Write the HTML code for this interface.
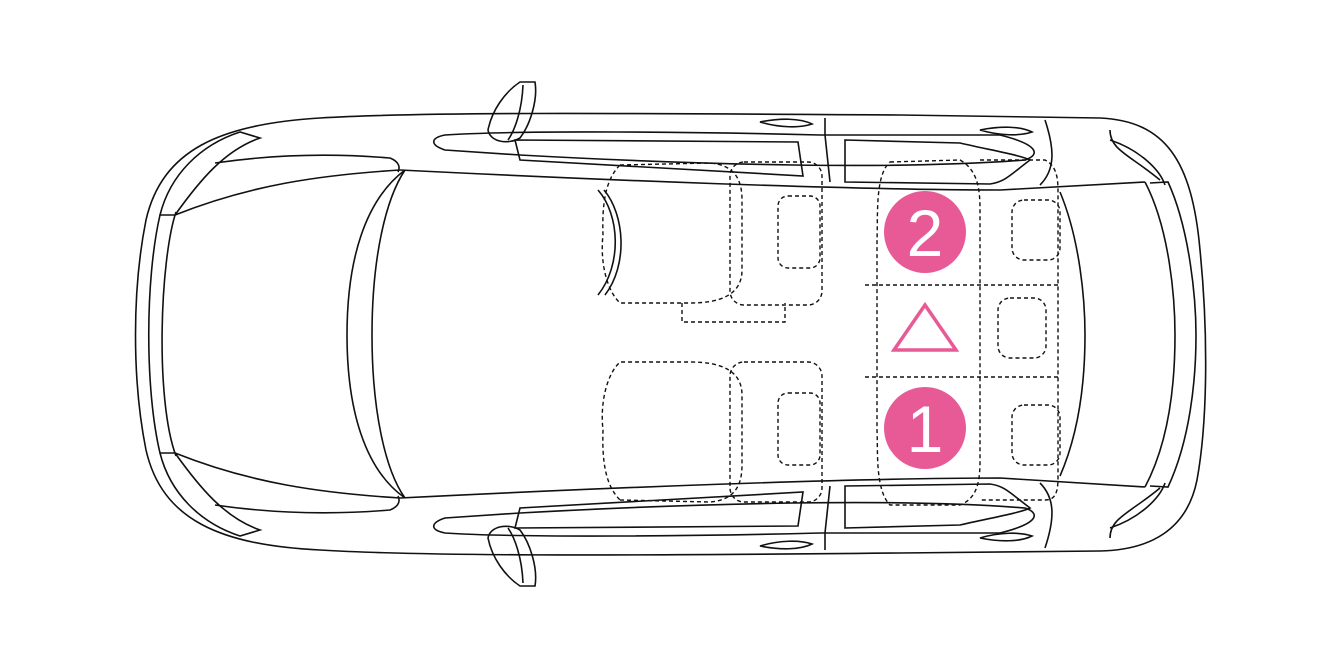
<!DOCTYPE html>
<html><head><meta charset="utf-8"><style>
html,body{margin:0;padding:0;background:#fff;width:1340px;height:672px;overflow:hidden}
svg{display:block}
</style></head><body>
<svg width="1340" height="672" viewBox="0 0 1340 672" xmlns="http://www.w3.org/2000/svg" fill="none" stroke="#111" stroke-width="1.6">
<!-- outer body -->
<path d="M320,118 C420,112 600,113 900,115 L1100,118 C1165,121 1192,160 1200,250 C1208,330 1208,420 1197,480 C1187,530 1150,550 1100,551 L900,553 C600,556 420,556 320,550 C220,545 162,520 146,450 C132,380 132,290 146,220 C162,150 220,124 320,118 Z"/>
<path d="M240,132 C200,145 170,175 160,215 L175,215 C200,180 225,150 260,138 Z"/>
<path d="M240,536 C200,523 170,493 160,453 L175,453 C200,488 225,518 260,530 Z"/>
<path d="M176,212 C160,260 155,400 176,456"/>
<path d="M160,215 C145,280 145,390 160,453"/>
<path d="M175,215 C250,185 320,175 400,170"/>
<path d="M175,453 C250,483 320,493 400,498"/>
<path d="M215,163 C270,155 330,153 390,158 C400,162 400,168 398,172"/>
<path d="M215,505 C270,513 330,515 390,510 C400,506 400,500 398,496"/>
<!-- windshield -->
<path d="M405,170 C365,200 347,260 347,335 C347,410 365,470 405,498"/>
<path d="M405,170 C385,200 372,260 372,335 C372,410 385,470 405,498"/>
<!-- roof lines -->
<path d="M400,170 C600,180 850,190 1000,190 L1145,182"/>
<path d="M400,498 C600,488 850,478 1000,478 L1145,487"/>
<!-- rear window -->
<path d="M1145,182 C1170,230 1175,300 1175,335 C1175,380 1170,440 1145,487"/>
<path d="M1150,183 L1168,182 C1190,230 1196,300 1196,335 C1196,380 1190,440 1168,487 L1150,486"/>
<path d="M1060,192 C1080,240 1085,300 1085,335 C1085,380 1080,430 1060,476"/>
<path d="M1110,140 C1140,150 1160,170 1165,185"/>
<path d="M1110,528 C1140,518 1160,498 1165,483"/>
<path d="M1110,130 C1110,150 1130,155 1160,180 M1110,538 C1110,518 1130,513 1160,488"/>
<!-- door sills top -->
<path d="M445,135 C520,130 700,132 820,135 L1000,135 C1040,145 1040,155 1025,160 C900,170 700,165 520,155 L445,150 C430,145 430,138 445,135 Z"/>
<path d="M445,533 C520,538 700,536 820,533 L1000,533 C1040,523 1040,513 1025,508 C900,498 700,503 520,513 L445,518 C430,523 430,530 445,533 Z"/>
<path d="M515,140 L798,142 L803,176 L520,160 Z"/>
<path d="M515,528 L798,526 L803,492 L520,508 Z"/>
<path d="M845,140 L960,143 C990,150 1020,155 1030,160 C1010,175 1005,182 990,184 L845,182 Z"/>
<path d="M845,528 L960,525 C990,518 1020,513 1030,508 C1010,493 1005,486 990,484 L845,486 Z"/>
<path d="M825,118 L825,135 M825,533 L825,550 M825,135 L830,182 M825,533 L830,486"/>
<path d="M1045,120 C1055,150 1055,170 1040,185 M1045,548 C1055,518 1055,498 1040,483"/>
<path d="M760,122 C780,118 800,118 812,124 C800,128 780,128 760,122 Z M980,130 C1000,126 1020,126 1032,132 C1020,136 1000,136 980,130 Z"/>
<path d="M760,546 C780,550 800,550 812,544 C800,540 780,540 760,546 Z M980,538 C1000,542 1020,542 1032,536 C1020,532 1000,532 980,538 Z"/>
<!-- mirrors -->
<path d="M520,82 L535,82 C538,100 530,125 520,138 C508,145 490,142 488,130 C492,110 505,92 520,82 Z M523,85 C522,110 515,130 508,140"/>
<path d="M520,586 L535,586 C538,568 530,543 520,530 C508,523 490,526 488,538 C492,558 505,576 520,586 Z M523,583 C522,558 515,538 508,528"/>
<!-- steering -->
<path d="M604,190 C625,215 628,265 605,295 M598,190 C620,215 622,265 598,295"/>
<!-- dashed seats -->
<g stroke-dasharray="4,3" stroke-width="1.4">
<path d="M620,165 L710,163 C735,165 742,180 742,200 L742,270 C742,295 720,303 690,303 L620,303 C606,290 600,260 603,235 C602,205 605,180 620,165 Z"/>
<path d="M620,500 L710,502 C735,500 742,485 742,465 L742,395 C742,370 720,362 690,362 L620,362 C606,375 600,405 603,430 C602,460 605,485 620,500 Z"/>
<rect x="730" y="162" width="92" height="143" rx="14"/>
<rect x="730" y="362" width="92" height="140" rx="14"/>
<rect x="778" y="196" width="42" height="72" rx="10"/>
<rect x="778" y="393" width="42" height="72" rx="10"/>
<path d="M682,303 L682,322 L785,322 L785,303"/>
<path d="M890,162 L960,160 C978,170 980,190 980,210 L980,460 C980,480 978,498 960,505 L890,505 C875,490 878,450 877,430 L877,240 C878,215 875,175 890,162 Z"/>
<path d="M980,160 L1045,160 C1055,165 1058,175 1058,190 L1058,478 C1058,493 1055,500 1045,500 L980,500"/>
<path d="M865,285 L1058,285 M865,377 L1058,377"/>
<rect x="1012" y="200" width="48" height="60" rx="12"/>
<rect x="998" y="298" width="48" height="60" rx="12"/>
<rect x="1012" y="405" width="48" height="60" rx="12"/>
</g>
<!-- markers -->
<circle cx="925" cy="232" r="41" fill="#e85a96" stroke="none"/>
<circle cx="925" cy="428" r="41" fill="#e85a96" stroke="none"/>
<text x="925" y="256" font-family="Liberation Sans, sans-serif" font-size="66" fill="#fff" stroke="none" text-anchor="middle">2</text>
<text x="925" y="452" font-family="Liberation Sans, sans-serif" font-size="66" fill="#fff" stroke="none" text-anchor="middle">1</text>
<path d="M925,305 L956,350 L894,350 Z" stroke="#e85a96" stroke-width="3.5"/>
</svg>
</body></html>
